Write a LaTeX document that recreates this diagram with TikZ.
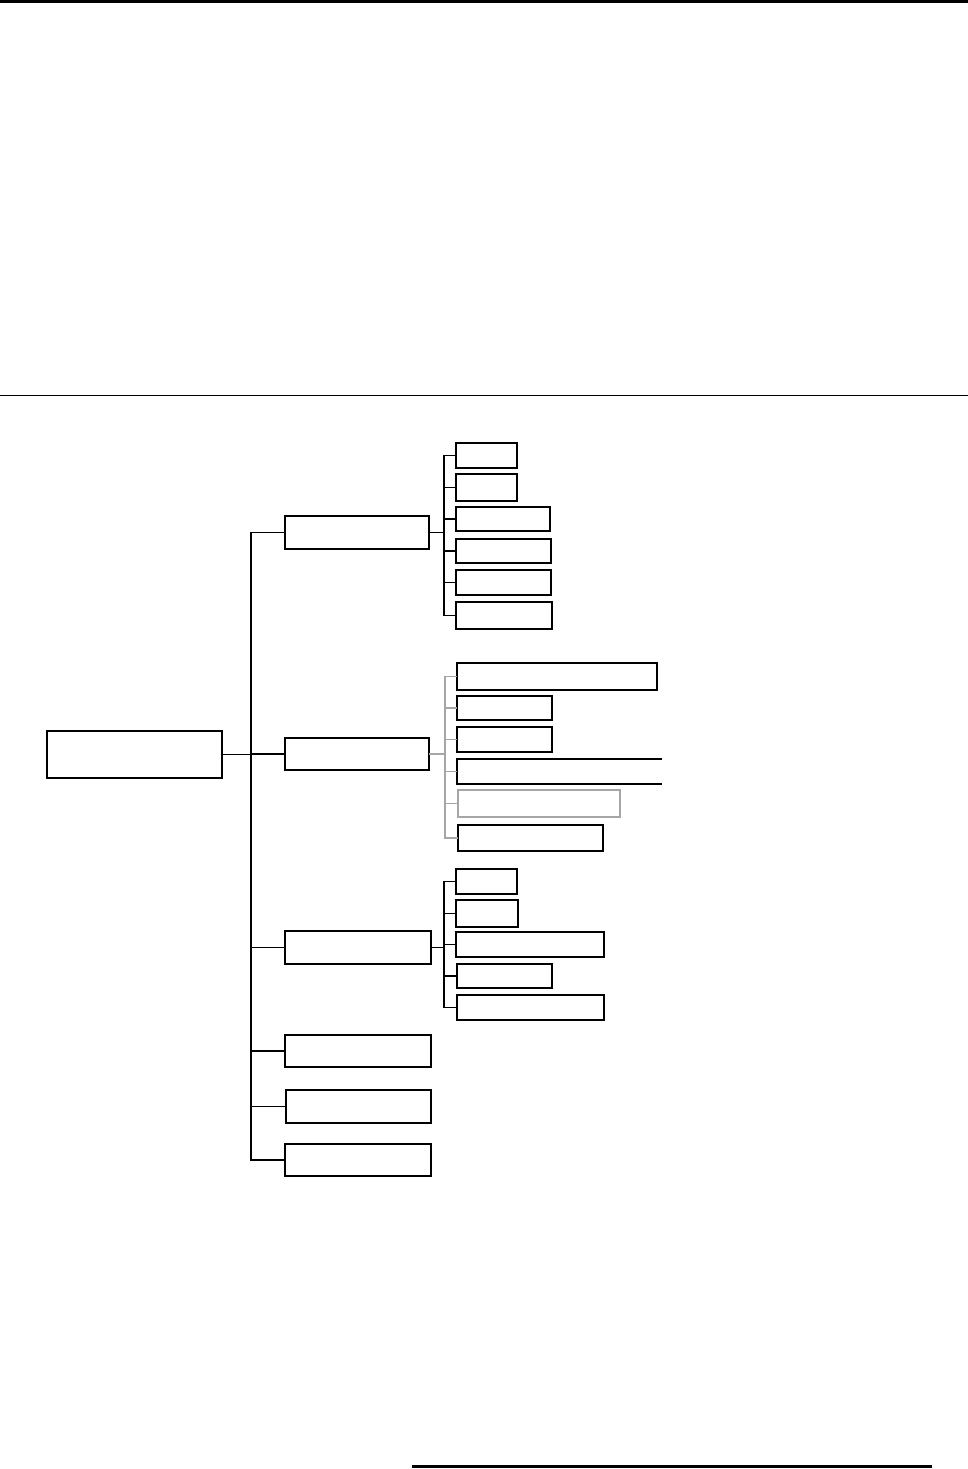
\documentclass[tikz,border=0pt]{standalone}
\usepackage{xcolor}
\usepackage{tikz}
\begin{document}
\begin{tikzpicture}[x=1pt,y=-1pt,
  every node/.style={inner sep=0pt,outer sep=0pt,anchor=north west},
  box/.style={draw,line width=1.1pt},
  link/.style={line width=1.1pt},
  greylink/.style={line width=1.1pt,draw=gray!70}]
\useasboundingbox (0,0) rectangle (968,1469);
% page rules
\draw[line width=3pt] (0,1.5) -- (968,1.5);
\draw[line width=1pt] (0,395) -- (968,395);
\draw[line width=2.5pt] (412,1466.5) -- (932,1466.5);
% root and first level
\node[box,minimum width=175pt,minimum height=47pt] (root) at (47,731) {};
\node[box,minimum width=144pt,minimum height=33pt] (ga) at (285,516) {};
\node[box,minimum width=144pt,minimum height=32pt] (gb) at (285,738) {};
\node[box,minimum width=146pt,minimum height=33pt] (gc) at (285,931) {};
\node[box,minimum width=146pt,minimum height=32pt] (gd) at (285,1035) {};
\node[box,minimum width=145pt,minimum height=33pt] (ge) at (286,1090) {};
\node[box,minimum width=146pt,minimum height=32pt] (gf) at (285,1144) {};
\foreach \g in {ga,gb,gc,gd,ge,gf}
  \draw[link] (root.east) -- ++(29,0) |- (\g.west);
% children of ga
\node[box,minimum width=61pt,minimum height=25pt] (a1) at (456,443) {};
\node[box,minimum width=61pt,minimum height=27pt] (a2) at (456,474) {};
\node[box,minimum width=94pt,minimum height=24pt] (a3) at (456,507) {};
\node[box,minimum width=95pt,minimum height=24pt] (a4) at (456,539) {};
\node[box,minimum width=95pt,minimum height=25pt] (a5) at (456,570) {};
\node[box,minimum width=96pt,minimum height=27pt] (a6) at (456,602) {};
\foreach \c in {a1,a2,a3,a4,a5,a6}
  \draw[link] (ga.east) -- ++(15,0) |- (\c.west);
% children of gb
\node[box,minimum width=200pt,minimum height=27pt] (b1) at (457,663) {};
\node[box,minimum width=95pt,minimum height=24pt] (b2) at (457,696) {};
\node[box,minimum width=95pt,minimum height=25pt] (b3) at (457,727) {};
\node[minimum width=205pt,minimum height=25pt] (b4) at (457,759) {};
\draw[line width=1.1pt] (b4.north east) -- (b4.north west) -- (b4.south west)
  -- (b4.south east);
\node[box,draw=gray!70,minimum width=162pt,minimum height=27pt] (b5) at (458,790) {};
\node[box,minimum width=145pt,minimum height=26pt] (b6) at (458,825) {};
\foreach \c in {b1,b2,b3,b4,b5,b6}
  \draw[greylink] (gb.east) -- ++(16,0) |- (\c.west);
% children of gc
\node[box,minimum width=61pt,minimum height=25pt] (c1) at (456,869) {};
\node[box,minimum width=62pt,minimum height=27pt] (c2) at (456,900) {};
\node[box,minimum width=148pt,minimum height=25pt] (c3) at (456,932) {};
\node[box,minimum width=95pt,minimum height=24pt] (c4) at (457,964) {};
\node[box,minimum width=147pt,minimum height=25pt] (c5) at (457,995) {};
\foreach \c in {c1,c2,c3,c4,c5}
  \draw[link] (gc.east) -- ++(13,0) |- (\c.west);
\end{tikzpicture}
\end{document}
